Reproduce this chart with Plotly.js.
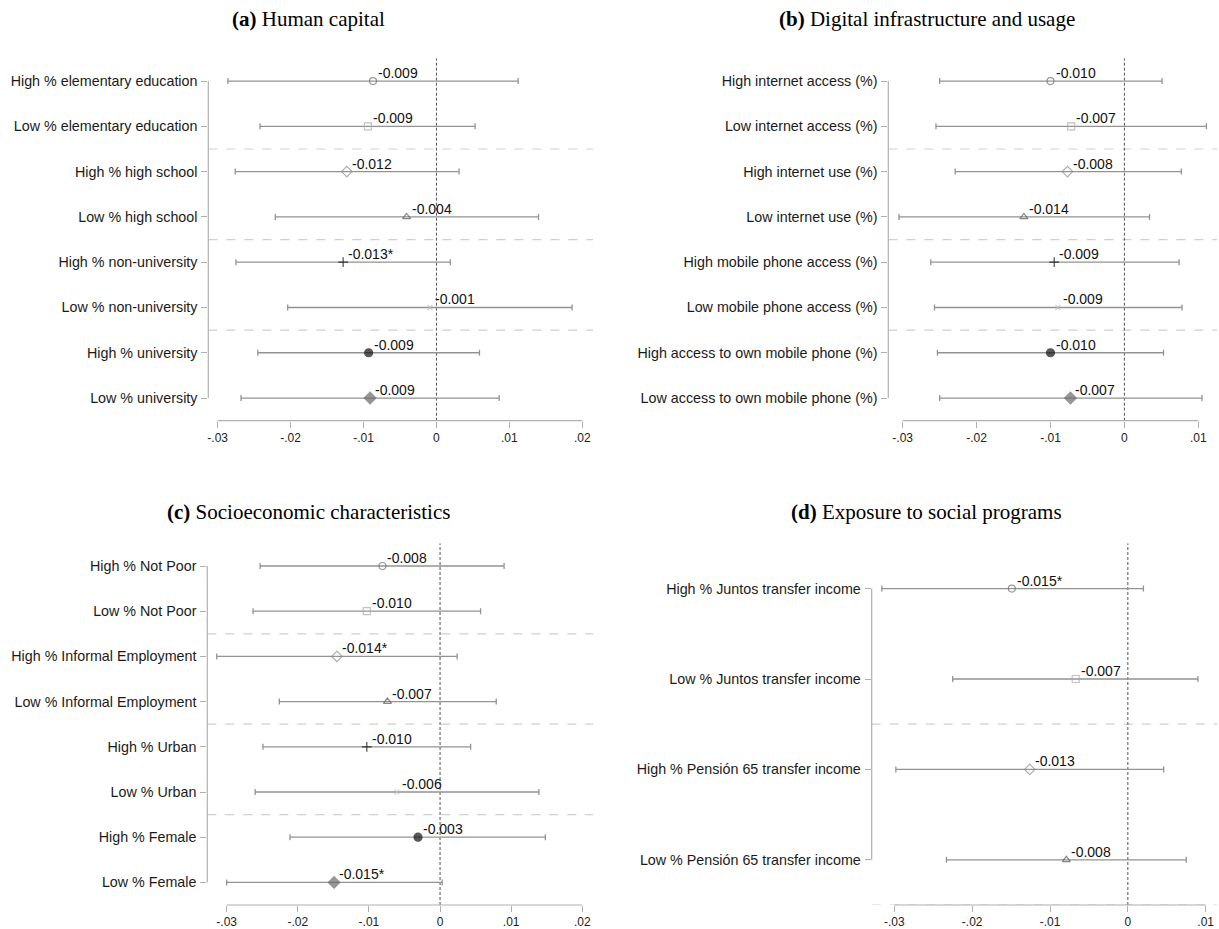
<!DOCTYPE html>
<html><head><meta charset="utf-8">
<script src="https://cdn.plot.ly/plotly-3.0.1.min.js"></script>
<style>html,body{margin:0;padding:0;background:#fff}#chart{width:1219px;height:929px}</style>
</head><body><div id="chart"></div>
<script>
// ---------- DATA ----------
const aLabels = ["High % elementary education","Low % elementary education","High % high school","Low % high school","High % non-university","Low % non-university","High % university","Low % university"];
const aPoint = [-0.0087,-0.0094,-0.0123,-0.0041,-0.0128,-0.0009,-0.0093,-0.0091];
const aLo    = [-0.0286,-0.0242,-0.0276,-0.0221,-0.0275,-0.0204,-0.0245,-0.0268];
const aHi    = [0.0112,0.0053,0.0031,0.0140,0.0019,0.0186,0.0059,0.0086];
const aText  = ["-0.009","-0.009","-0.012","-0.004","-0.013*","-0.001","-0.009","-0.009"];

const bLabels = ["High internet access (%)","Low internet access (%)","High internet use (%)","Low internet use (%)","High mobile phone access (%)","Low mobile phone access (%)","High access to own mobile phone (%)","Low access to own mobile phone (%)"];
const bPoint = [-0.0100,-0.0072,-0.0077,-0.0136,-0.0095,-0.0090,-0.0100,-0.0073];
const bLo    = [-0.0250,-0.0255,-0.0229,-0.0305,-0.0262,-0.0257,-0.0253,-0.0250];
const bHi    = [0.0051,0.0111,0.0077,0.0034,0.0074,0.0078,0.0053,0.0105];
const bText  = ["-0.010","-0.007","-0.008","-0.014","-0.009","-0.009","-0.010","-0.007"];

const cLabels = ["High % Not Poor","Low % Not Poor","High % Informal Employment","Low % Informal Employment","High % Urban","Low % Urban","High % Female","Low % Female"];
const cPoint = [-0.0081,-0.0103,-0.0145,-0.0074,-0.0103,-0.0061,-0.0031,-0.0149];
const cLo    = [-0.0253,-0.0263,-0.0314,-0.0226,-0.0249,-0.0260,-0.0211,-0.0300];
const cHi    = [0.0090,0.0057,0.0024,0.0079,0.0043,0.0139,0.0148,0.0003];
const cText  = ["-0.008","-0.010","-0.014*","-0.007","-0.010","-0.006","-0.003","-0.015*"];

const dLabels = ["High % Juntos transfer income","Low % Juntos transfer income","High % Pensión 65 transfer income","Low % Pensión 65 transfer income"];
const dPoint = [-0.0149,-0.0067,-0.0126,-0.0079];
const dLo    = [-0.0316,-0.0225,-0.0298,-0.0233];
const dHi    = [0.0020,0.0090,0.0046,0.0075];
const dText  = ["-0.015*","-0.007","-0.013","-0.008"];

const tickVals = [-0.03,-0.02,-0.01,0,0.01,0.02];
const tickText = ["-.03","-.02","-.01","0",".01",".02"];
const tickValsB = [-0.03,-0.02,-0.01,0,0.01];
const tickTextB = ["-.03","-.02","-.01","0",".01"];

const titles = ["<b>(a)</b> Human capital","<b>(b)</b> Digital infrastructure and usage","<b>(c)</b> Socioeconomic characteristics","<b>(d)</b> Exposure to social programs"];

// ---------- STYLE ----------
const symbols = ["circle-open","square-open","diamond-open","triangle-up-open","cross-thin","x-thin","circle","diamond"];
const mcolors = ["#6e6e6e","#a8a8a8","#8a8a8a","#555555","#000000","#c0c0c0","#111111","#6a6a6a"];
const msizes  = [7,7,8,7,7,5,8,9];

const W = 1219, H = 929;
const geo = [
  {xl:208.3, xr:593, pl:217.7, ph:582.3, vl:-0.03, vh:0.02, yt:58.4, yb:420.7},
  {xl:888.3, xr:1217, pl:902.7, ph:1198.3, vl:-0.03, vh:0.01, yt:58.4, yb:420.7},
  {xl:207.3, xr:593, pl:226.7, ph:582.3, vl:-0.03, vh:0.02, yt:543.4, yb:905},
  {xl:871.7, xr:1217, pl:894.3, ph:1205.7, vl:-0.03, vh:0.01, yt:543.4, yb:905}
];
const panels = [
  {labels:aLabels, pt:aPoint, lo:aLo, hi:aHi, txt:aText, tv:tickVals, tt:tickText, seps:[1.5,3.5,5.5]},
  {labels:bLabels, pt:bPoint, lo:bLo, hi:bHi, txt:bText, tv:tickValsB, tt:tickTextB, seps:[1.5,3.5,5.5]},
  {labels:cLabels, pt:cPoint, lo:cLo, hi:cHi, txt:cText, tv:tickVals, tt:tickText, seps:[1.5,3.5,5.5]},
  {labels:dLabels, pt:dPoint, lo:dLo, hi:dHi, txt:dText, tv:tickValsB, tt:tickTextB, seps:[1.5,3.5]}
];
const titlePos = [[308,19],[927,19],[308,512],[926,512]];

const data = [], shapes = [], annotations = [];
const layout = {
  width: W, height: H, margin:{l:0,r:0,t:0,b:0},
  paper_bgcolor:"#fff", plot_bgcolor:"rgba(0,0,0,0)", showlegend:false,
  font:{family:"Liberation Sans, Arial, sans-serif", color:"#222"}
};

panels.forEach((p, i) => {
  const g = geo[i];
  const sfx = i === 0 ? "" : String(i+1);
  const xa = "x"+sfx, ya = "y"+sfx;
  const scale = (g.ph - g.pl) / (g.vh - g.vl);
  const r0 = g.vl - (g.pl - g.xl)/scale;
  const r1 = g.vh + (g.xr - g.ph)/scale;
  const n = p.labels.length;
  layout["xaxis"+sfx] = {
    domain:[g.xl/W, g.xr/W], range:[r0, r1], anchor:ya,
    showgrid:false, zeroline:false, showline:false,
    tickvals:p.tv, ticktext:p.tt, ticks:"outside", ticklen:6, tickcolor:"#b0b0b0", tickwidth:1,
    tickfont:{size:12, color:"#222"}, fixedrange:true
  };
  layout["yaxis"+sfx] = {
    domain:[1 - g.yb/H, 1 - g.yt/H], type:"category", categoryorder:"array", categoryarray:p.labels,
    range:[n-0.5, -0.5], anchor:xa,
    showgrid:false, zeroline:false, showline:false,
    ticks:"outside", ticklen:6, tickcolor:"#b0b0b0", tickwidth:1,
    tickfont:{size:14.3, color:"#1a1a1a"}, ticklabelstandoff:1, fixedrange:true
  };
  data.push({
    type:"scatter", mode:"markers", xaxis:xa, yaxis:ya,
    x:p.pt, y:p.labels, cliponaxis:false,
    error_x:{type:"data", symmetric:false,
      array:p.hi.map((h,k)=>h-p.pt[k]), arrayminus:p.pt.map((v,k)=>v-p.lo[k]),
      color:"#939393", thickness:1.3, width:3},
    marker:{symbol:symbols.slice(0,n), color:mcolors.slice(0,n), size:msizes.slice(0,n),
      line:{color:mcolors.slice(0,n), width:1.2}}
  });
  p.txt.forEach((t,k) => annotations.push({xref:xa, yref:ya, x:p.pt[k], y:p.labels[k], text:t,
    xanchor:"left", yanchor:"middle", xshift:3, yshift:8, showarrow:false,
    font:{size:14, color:"#111", family:"Liberation Sans, Arial, sans-serif"}}));
  p.seps.forEach(s => shapes.push({type:"line", xref:xa+" domain", yref:ya, x0:0, x1:1, y0:s, y1:s,
    line:{color:"#cfcfcf", width:1.2, dash:"dash"}, layer:"below"}));
  shapes.push({type:"line", xref:xa, yref:ya+" domain", x0:0, x1:0, y0:0, y1:1,
    line:{color:"#555", width:1, dash:"3px,2px"}, layer:"below"});
  shapes.push({type:"line", xref:xa, yref:ya+" domain", x0:p.tv[0], x1:p.tv[p.tv.length-1], y0:0, y1:0,
    line:{color:"#b0b0b0", width:1.2}});
  shapes.push({type:"line", xref:xa+" domain", yref:ya, x0:0, x1:0, y0:0, y1:n-1,
    line:{color:"#b0b0b0", width:1.2}});
  annotations.push({xref:"paper", yref:"paper", x:titlePos[i][0]/W, y:1 - titlePos[i][1]/H,
    xanchor:"center", yanchor:"middle", showarrow:false, text:titles[i],
    font:{family:"Liberation Serif, DejaVu Serif, serif", size:21, color:"#000"}});
});
layout.shapes = shapes;
layout.annotations = annotations;
Plotly.newPlot("chart", data, layout, {displayModeBar:false, staticPlot:true});
</script>
</body></html>
